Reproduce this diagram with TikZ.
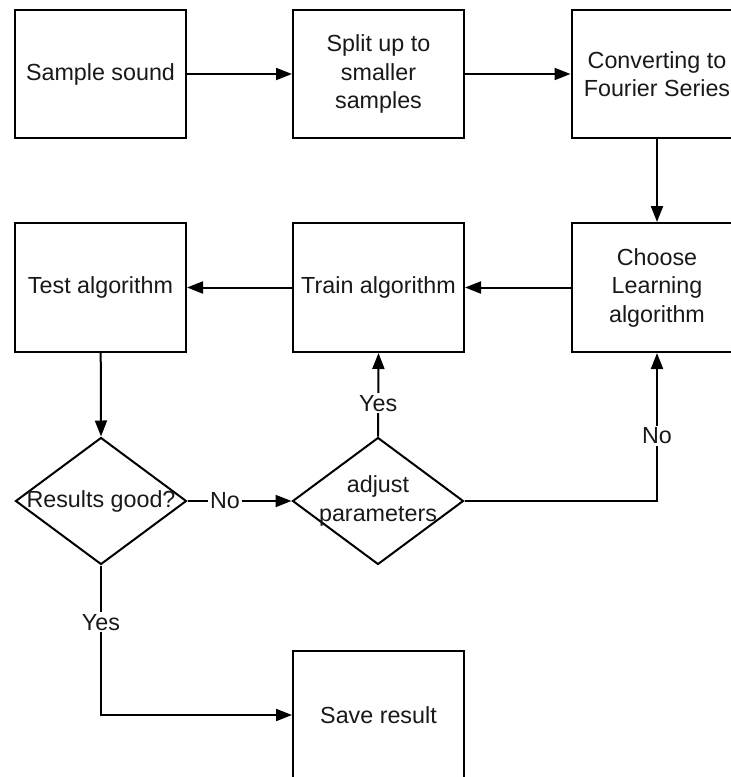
\documentclass[tikz,border=0pt]{standalone}
\usepackage{fontspec}
\setmainfont{Liberation Sans}
\usetikzlibrary{shapes.geometric,arrows.meta}
\begin{document}
\begin{tikzpicture}[x=1pt,y=-1pt,
  every node/.style={font=\fontsize{23.3}{28.5}\selectfont, text=black!90},
  box/.style={draw, line width=2pt, minimum width=171pt, minimum height=128pt, inner sep=0pt, align=center, fill=white},
  dia/.style={draw, diamond, line width=2pt, minimum width=171pt, minimum height=127pt, inner sep=0pt},
  arr/.style={line width=2pt, -{Triangle[length=16pt,width=12pt]}},
  lbl/.style={fill=white, inner sep=2pt}]
\useasboundingbox (0,0) rectangle (731,777);
\clip (0,0) rectangle (731,777);
\node[box] (sample) at (100.5,74) {Sample sound};
\node[box] (split) at (378.5,74) {Split up to\\smaller\\samples};
\node[box] (conv) at (657,74) {Converting to\\Fourier Series};
\node[box, minimum height=129pt] (choose) at (657,287.5) {Choose\\Learning\\algorithm};
\node[box, minimum height=129pt] (train) at (378.5,287.5) {Train algorithm};
\node[box, minimum height=129pt] (test) at (100.5,287.5) {Test algorithm};
\node[dia] (d1) at (101,501) {};
\node at (d1) {Results good?};
\node[dia] (d2) at (378,501) {};
\node[align=center] at (d2) {adjust\\parameters};
\node[box] (save) at (378.5,715) {Save result};
\draw[arr] (sample) -- (split);
\draw[arr] (split) -- (conv);
\draw[arr] (conv) -- (choose);
\draw[arr] (choose) -- (train);
\draw[arr] (train) -- (test);
\draw[arr] (test) -- (d1.north);
\draw[arr] (d1.east) -- node[lbl, pos=0.36] {No} (d2.west);
\draw[arr] (d2.north) -- node[lbl, pos=0.4] {Yes} (train.south);
\draw[arr] (d2.east) -| node[lbl, pos=0.72] {No} (choose.south);
\draw[arr] (d1.south) |- node[lbl, pos=0.19] {Yes} (save.west);
\end{tikzpicture}
\end{document}
